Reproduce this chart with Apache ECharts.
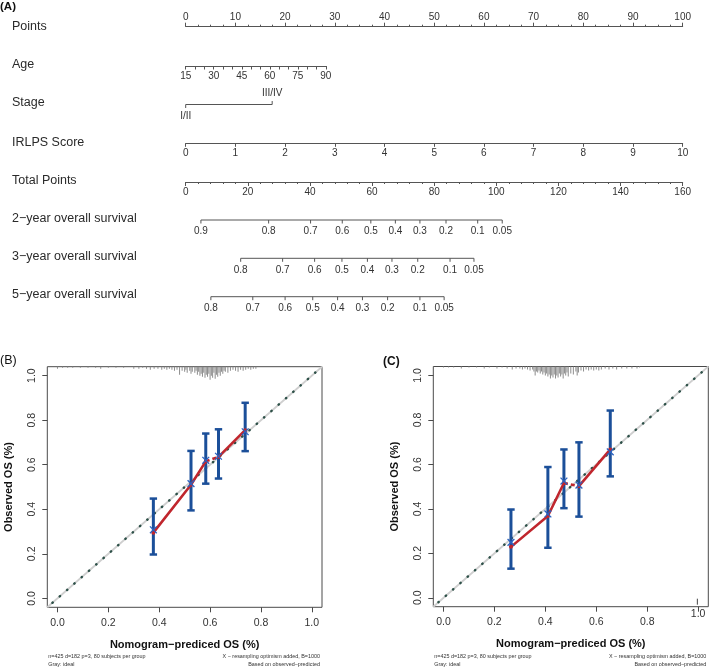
<!DOCTYPE html>
<html><head><meta charset="utf-8">
<script src="https://cdn.jsdelivr.net/npm/echarts@6/dist/echarts.min.js"></script>
<style>html,body{margin:0;padding:0;background:#fff}#c{width:709px;height:668px}</style>
</head><body><div id="c"></div>
<script>
// ---------------- Nomogram data ----------------
const rowNames = ['Points', 'Age', 'Stage', 'IRLPS Score', 'Total Points',
  '2\u2212year overall survival', '3\u2212year overall survival', '5\u2212year overall survival'];
const pointsRange = [0, 100];
const ageRange = [15, 90];
const ageMaxPoints = 28.2;
const stageLabels = ['I/II', 'III/IV'];
const stagePoints = [0, 17.4];
const irlpsRange = [0, 10];
const totalRange = [0, 160];
const surv2Labels = ['0.9', '0.8', '0.7', '0.6', '0.5', '0.4', '0.3', '0.2', '0.1', '0.05'];
const surv2Total = [4.9, 26.7, 40.2, 50.4, 59.6, 67.5, 75.4, 83.8, 94.0, 101.9];
const surv3Labels = ['0.8', '0.7', '0.6', '0.5', '0.4', '0.3', '0.2', '0.1', '0.05'];
const surv3Total = [17.7, 31.2, 41.5, 50.3, 58.5, 66.4, 74.7, 85.1, 92.8];
const surv5Labels = ['0.8', '0.7', '0.6', '0.5', '0.4', '0.3', '0.2', '0.1', '0.05'];
const surv5Total = [8.1, 21.6, 32.0, 40.9, 48.9, 56.9, 65.0, 75.4, 83.2];

// ---------------- Calibration (B) ----------------
const calBPred = [0.377, 0.525, 0.583, 0.633, 0.738];
const calBObs  = [0.295, 0.510, 0.615, 0.635, 0.755];
const calBCorr = [0.308, 0.515, 0.620, 0.638, 0.748];
const calBLow  = [0.197, 0.395, 0.515, 0.538, 0.661];
const calBHigh = [0.448, 0.662, 0.740, 0.759, 0.878];
const rugBX = [0.00,0.02,0.04,0.06,0.09,0.12,0.15,0.17,0.20,0.23,0.26,0.30,0.32,0.335,0.35,0.365,0.38,0.395,0.41,0.42,0.43,0.44,0.45,0.46,0.47,0.48,0.49,0.50,0.505,0.51,0.52,0.525,0.53,0.54,0.545,0.55,0.555,0.56,0.565,0.57,0.575,0.58,0.585,0.59,0.595,0.60,0.605,0.61,0.615,0.62,0.625,0.63,0.635,0.64,0.645,0.65,0.655,0.66,0.67,0.68,0.69,0.70,0.71,0.72,0.73,0.74,0.75,0.76,0.77,0.78];
const rugBH = [2,1,1,1,1,1,1,2,1,1,1,2,2,1,2,3,2,2,3,2,3,2,3,4,3,8,4,5,3,6,4,7,5,6,4,8,5,9,7,10,6,11,8,10,7,13,9,11,6,12,8,10,6,9,5,7,4,5,6,4,3,4,5,3,4,3,2,3,2,2];

// ---------------- Calibration (C) ----------------
const calCPred = [0.265, 0.410, 0.473, 0.532, 0.655];
const calCObs  = [0.229, 0.368, 0.516, 0.502, 0.667];
const calCCorr = [0.249, 0.377, 0.525, 0.507, 0.656];
const calCLow  = [0.131, 0.225, 0.403, 0.365, 0.546];
const calCHigh = [0.397, 0.588, 0.667, 0.699, 0.842];
const rugCX = [0.00,0.02,0.04,0.07,0.10,0.13,0.16,0.18,0.21,0.23,0.25,0.27,0.285,0.30,0.31,0.32,0.33,0.34,0.35,0.355,0.36,0.365,0.37,0.375,0.38,0.385,0.39,0.395,0.40,0.405,0.41,0.415,0.42,0.425,0.43,0.435,0.44,0.445,0.45,0.455,0.46,0.465,0.47,0.475,0.48,0.485,0.49,0.50,0.51,0.52,0.525,0.53,0.54,0.55,0.56,0.57,0.58,0.59,0.60,0.61,0.62,0.635,0.65,0.665,0.68,0.70,0.72,0.74,0.76,0.77];
const rugCH = [1,1,1,2,1,1,2,1,2,1,2,3,2,2,3,2,3,4,3,5,9,5,6,4,7,5,8,6,9,7,10,8,12,9,11,8,12,9,11,7,10,8,12,7,9,6,10,7,8,5,9,6,4,5,3,4,3,4,3,4,3,2,3,2,3,2,2,2,2,1];
const rugCBottomX = [0.997];

const calTicks = [0, 0.2, 0.4, 0.6, 0.8, 1.0];
const noteLeft = ['n=425 d=182 p=3, 80 subjects per group', 'Gray: ideal'];
const noteRight = ['X \u2212 resampling optimism added, B=1000', 'Based on observed\u2212predicted'];

// ---------------- styling / layout ----------------
const FONT = "'Liberation Sans', Arial, Helvetica, sans-serif";
const LINE = '#555';
const TXT = '#333';
const BLUE = '#1b4f99';
const RED = '#c0262d';
const NL = 185.7, NR = 709 - 682.7;
const TICKFS = 10;
const rowY = [26.7, 66, 104.5, 143.3, 182, 220, 258.3, 296.7];
const rowLabelY = [26.7, 64.3, 102.7, 142.7, 181, 218.3, 256.7, 295];

const chart = echarts.init(document.getElementById('c'), null, {renderer: 'canvas'});

const grids = [], xAxes = [], yAxes = [], series = [], graphics = [];

function nomoAxis(gi, cfg) {
  xAxes.push(Object.assign({
    gridIndex: gi, type: 'value',
    axisLine: {show: true, onZero: false, lineStyle: {color: LINE, width: 1}},
    axisTick: {show: true, length: 3.5, lineStyle: {color: LINE, width: 1}},
    axisLabel: {color: TXT, fontSize: TICKFS, fontFamily: FONT, margin: 5},
    splitLine: {show: false}
  }, cfg));
  yAxes.push({gridIndex: gi, type: 'value', show: false, min: 0, max: 1});
}

// Points (grid 0)
grids.push({left: NL, right: NR, top: rowY[0], height: 0});
nomoAxis(0, {min: pointsRange[0], max: pointsRange[1], interval: 10, position: 'top',
  axisTick: {show: true, length: 4, lineStyle: {color: LINE}},
  minorTick: {show: true, splitNumber: 4, length: 2, lineStyle: {color: LINE}},
  axisLabel: {color: TXT, fontSize: TICKFS, fontFamily: FONT, margin: 4}});
// Age (grid 1)
grids.push({left: NL, width: (682.7 - NL) * ageMaxPoints / 100, top: rowY[1], height: 0});
nomoAxis(1, {min: ageRange[0], max: ageRange[1], interval: 15, position: 'bottom',
  minorTick: {show: true, splitNumber: 3, length: 3.5, lineStyle: {color: LINE}}});
// IRLPS (grid 2)
grids.push({left: NL, right: NR, top: rowY[3], height: 0});
nomoAxis(2, {min: irlpsRange[0], max: irlpsRange[1], interval: 1, position: 'bottom'});
// Total points (grid 3)
grids.push({left: NL, right: NR, top: rowY[4], height: 0});
nomoAxis(3, {min: totalRange[0], max: totalRange[1], interval: 20, position: 'bottom',
  axisTick: {show: true, length: 4, lineStyle: {color: LINE}},
  minorTick: {show: true, splitNumber: 5, length: 2, lineStyle: {color: LINE}}});

// grid 4 : custom rows (stage, survival)
grids.push({left: NL, right: NR, top: 0, height: 320});
xAxes.push({gridIndex: 4, type: 'value', min: totalRange[0], max: totalRange[1], show: false}); // xAxis 4
xAxes.push({gridIndex: 4, type: 'value', min: pointsRange[0], max: pointsRange[1], show: false}); // xAxis 5
yAxes.push({gridIndex: 4, type: 'value', min: 0, max: 320, inverse: true, show: false}); // yAxis 4

function tickRow(xi, values, labels, y, dirs) {
  series.push({type: 'line', xAxisIndex: xi, yAxisIndex: 4, silent: true, animation: false,
    data: [[values[0], y], [values[values.length - 1], y]], symbol: 'none',
    lineStyle: {color: LINE, width: 1}});
  series.push({type: 'custom', xAxisIndex: xi, yAxisIndex: 4, silent: true, animation: false,
    data: values.map((v, i) => [v, y, i]),
    renderItem: (params, api) => {
      const p = api.coord([api.value(0), api.value(1)]);
      const i = api.value(2);
      const d = dirs ? dirs[i] : 1;
      return {type: 'group', children: [
        {type: 'line', shape: {x1: p[0], y1: p[1], x2: p[0], y2: p[1] + d * 3.5},
          style: {stroke: LINE, lineWidth: 1}},
        {type: 'text', x: p[0], y: p[1] + d * 11.7,
          style: {text: labels[i], fill: TXT, fontSize: TICKFS, fontFamily: FONT,
            align: 'center', verticalAlign: 'middle', textAlign: 'center', textVerticalAlign: 'middle'}}
      ]};
    }});
}
tickRow(5, stagePoints, stageLabels, rowY[2], [1, -1]);
tickRow(4, surv2Total, surv2Labels, rowY[5]);
tickRow(4, surv3Total, surv3Labels, rowY[6]);
tickRow(4, surv5Total, surv5Labels, rowY[7]);

rowNames.forEach((n, i) => {
  graphics.push({type: 'text', x: 12, y: rowLabelY[i], silent: true,
    style: {text: n, fill: '#2a2a2a', fontSize: 12.5, fontFamily: FONT,
      align: 'left', verticalAlign: 'middle', textAlign: 'left', textVerticalAlign: 'middle'}});
});

// ---------------- calibration panels ----------------
function calPanel(gi, box, pred, obs, corr, low, high, rugX, rugH, extra) {
  grids.push({left: box.left, top: box.top, width: box.width, height: box.height,
    show: true, borderColor: '#4a4a4a', borderWidth: 1, backgroundColor: 'transparent'});
  const xi = xAxes.length, yi = yAxes.length;
  xAxes.push({gridIndex: gi, type: 'value', min: -0.04, max: 1.04, position: 'bottom',
    axisLine: {show: false, onZero: false},
    axisTick: {show: true, inside: false, length: 5, customValues: calTicks, lineStyle: {color: '#4a4a4a'}},
    axisLabel: {show: true, customValues: extra && extra.xLabels ? extra.xLabels : calTicks,
      formatter: v => v.toFixed(1), color: TXT, fontSize: 10.5, fontFamily: FONT, margin: 10},
    splitLine: {show: false},
    name: 'Nomogram\u2212prediced OS (%)', nameLocation: 'middle', nameGap: 32,
    nameTextStyle: {fontWeight: 'bold', fontSize: 11, fontFamily: FONT, color: '#111'}});
  yAxes.push({gridIndex: gi, type: 'value', min: -0.04, max: 1.04, position: 'left',
    axisLine: {show: false, onZero: false},
    axisTick: {show: true, inside: false, length: 5, customValues: calTicks, lineStyle: {color: '#4a4a4a'}},
    axisLabel: {show: true, customValues: calTicks, rotate: 90,
      formatter: v => v.toFixed(1), color: TXT, fontSize: 10.5, fontFamily: FONT, margin: 10},
    splitLine: {show: false},
    name: 'Observed OS (%)', nameLocation: 'middle', nameGap: 33,
    nameTextStyle: {fontWeight: 'bold', fontSize: 11, fontFamily: FONT, color: '#111'}});
  yAxes.push({gridIndex: gi, type: 'value', min: 0, max: 240, inverse: true, show: false, position: 'right'});
  const ryi = yi + 1;
  if (extra && extra.raisedLabels) {
    xAxes.push({gridIndex: gi, type: 'value', min: -0.04, max: 1.04, position: 'bottom', offset: 0,
      axisLine: {show: false, onZero: false}, axisTick: {show: false}, splitLine: {show: false},
      axisLabel: {show: true, customValues: extra.raisedLabels, formatter: v => v.toFixed(1),
        color: TXT, fontSize: 10.5, fontFamily: FONT, margin: 2}});
  }
  const common = {xAxisIndex: xi, yAxisIndex: yi, animation: false, silent: true};
  // rug of predicted values
  series.push({type: 'bar', xAxisIndex: xi, yAxisIndex: ryi, animation: false, silent: true,
    barWidth: 1, itemStyle: {color: '#8c8c8c'},
    data: rugX.map((x, i) => [x, rugH[i]])});
  // ideal gray line
  series.push(Object.assign({type: 'line', symbol: 'none', data: [[-0.04, -0.04], [1.04, 1.04]],
    lineStyle: {color: '#cfcfcf', width: 1.8}, z: 1}, common));
  // dotted ideal
  series.push(Object.assign({type: 'line', symbol: 'none', data: [[-0.02, -0.02], [1.02, 1.02]],
    lineStyle: {color: '#2d5048', width: 2.4, type: [0.5, 9.2], cap: 'round'}, z: 2}, common));
  // error bars
  series.push(Object.assign({type: 'custom', z: 3,
    data: pred.map((x, i) => [x, low[i], high[i]]),
    renderItem: (params, api) => {
      const pl = api.coord([api.value(0), api.value(1)]);
      const ph = api.coord([api.value(0), api.value(2)]);
      const cw = 3.7;
      return {type: 'group', children: [
        {type: 'line', shape: {x1: pl[0], y1: pl[1], x2: ph[0], y2: ph[1]}, style: {stroke: BLUE, lineWidth: 3}},
        {type: 'line', shape: {x1: pl[0] - cw, y1: pl[1], x2: pl[0] + cw, y2: pl[1]}, style: {stroke: BLUE, lineWidth: 2.5}},
        {type: 'line', shape: {x1: ph[0] - cw, y1: ph[1], x2: ph[0] + cw, y2: ph[1]}, style: {stroke: BLUE, lineWidth: 2.5}}
      ]};
    }}, common));
  // red calibration line: solid 1-3, dashed 3-4, solid 4-5
  const pts = pred.map((x, i) => [x, obs[i]]);
  series.push(Object.assign({type: 'line', data: pts.slice(0, 3), symbol: 'circle', symbolSize: 4,
    itemStyle: {color: RED}, lineStyle: {color: RED, width: 2.6}, z: 4}, common));
  series.push(Object.assign({type: 'line', data: pts.slice(2, 4), symbol: 'none',
    lineStyle: {color: RED, width: 2.6, type: [4, 3]}, z: 4}, common));
  series.push(Object.assign({type: 'line', data: pts.slice(3, 5), symbol: 'circle', symbolSize: 4,
    itemStyle: {color: RED}, lineStyle: {color: RED, width: 2.6}, z: 4}, common));
  // bias-corrected X marks
  series.push(Object.assign({type: 'custom', z: 5,
    data: pred.map((x, i) => [x, corr[i]]),
    renderItem: (params, api) => {
      const p = api.coord([api.value(0), api.value(1)]);
      const s = 3.4;
      return {type: 'group', children: [
        {type: 'line', shape: {x1: p[0] - s, y1: p[1] - s, x2: p[0] + s, y2: p[1] + s}, style: {stroke: '#2a62c0', lineWidth: 1.3}},
        {type: 'line', shape: {x1: p[0] - s, y1: p[1] + s, x2: p[0] + s, y2: p[1] - s}, style: {stroke: '#2a62c0', lineWidth: 1.3}}
      ]};
    }}, common));
  if (extra && extra.bottomRug) {
    series.push(Object.assign({type: 'custom', z: 3,
      data: extra.bottomRug.map(x => [x, -0.04]),
      renderItem: (params, api) => {
        const p = api.coord([api.value(0), api.value(1)]);
        return {type: 'line', shape: {x1: p[0], y1: p[1] - 2, x2: p[0], y2: p[1] - 8}, style: {stroke: '#444', lineWidth: 1}};
      }}, common));
  }
  // footnotes
  const fy = [656.7, 664.3];
  noteLeft.forEach((t, i) => graphics.push({type: 'text', x: box.left + 1, y: fy[i], silent: true,
    style: {text: t, fill: '#333', fontSize: 5.4, fontFamily: FONT, align: 'left', verticalAlign: 'middle', textAlign: 'left', textVerticalAlign: 'middle'}}));
  noteRight.forEach((t, i) => graphics.push({type: 'text', x: box.left + box.width - 2, y: fy[i], silent: true,
    style: {text: t, fill: '#333', fontSize: 5.4, fontFamily: FONT, align: 'right', verticalAlign: 'middle', textAlign: 'right', textVerticalAlign: 'middle'}}));
}

calPanel(5, {left: 47.3, top: 366.7, width: 274.7, height: 240.6},
  calBPred, calBObs, calBCorr, calBLow, calBHigh, rugBX, rugBH);
calPanel(6, {left: 433.3, top: 366.5, width: 275, height: 240.2},
  calCPred, calCObs, calCCorr, calCLow, calCHigh, rugCX, rugCH,
  {xLabels: [0, 0.2, 0.4, 0.6, 0.8], raisedLabels: [1.0], bottomRug: rugCBottomX});

// panel letters
graphics.push({type: 'text', x: 0, y: 7, silent: true, style: {text: '(A)', fill: '#111', fontSize: 11.5, fontWeight: 'bold', fontFamily: FONT, align: 'left', verticalAlign: 'middle', textAlign: 'left', textVerticalAlign: 'middle'}});
graphics.push({type: 'text', x: 0, y: 361, silent: true, style: {text: '(B)', fill: '#111', fontSize: 12.5, fontFamily: FONT, align: 'left', verticalAlign: 'middle', textAlign: 'left', textVerticalAlign: 'middle'}});
graphics.push({type: 'text', x: 383, y: 362, silent: true, style: {text: '(C)', fill: '#111', fontSize: 12, fontWeight: 'bold', fontFamily: FONT, align: 'left', verticalAlign: 'middle', textAlign: 'left', textVerticalAlign: 'middle'}});

chart.setOption({
  animation: false,
  backgroundColor: '#fff',
  grid: grids,
  xAxis: xAxes,
  yAxis: yAxes,
  series: series,
  graphic: graphics
});
</script></body></html>
